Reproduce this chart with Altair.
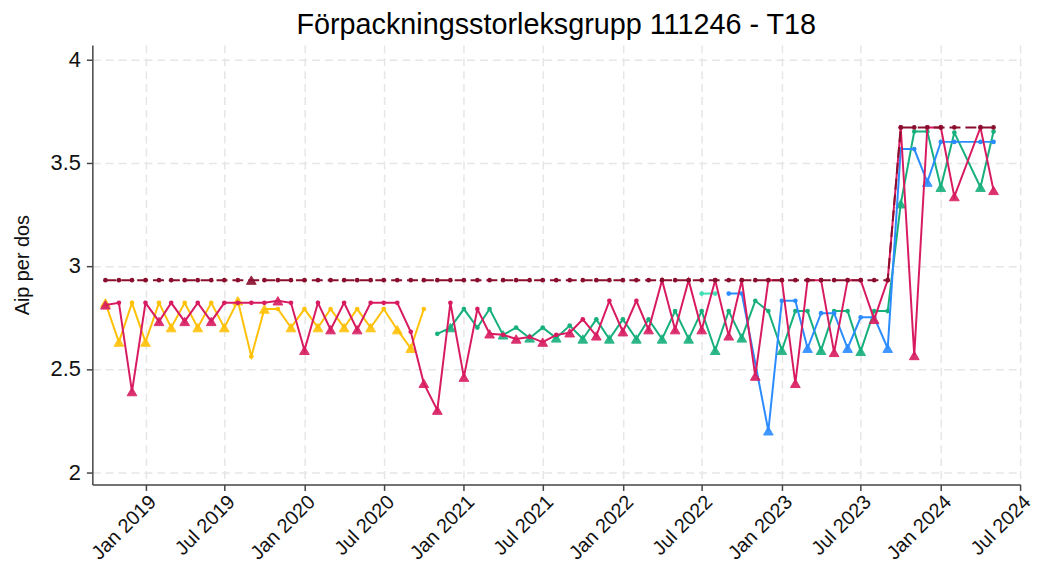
import altair as alt
import pandas as pd

# Monthly observations, Oct 2018 .. May 2024 (68 months)
months = pd.date_range("2018-10-01", periods=68, freq="MS")

maroon_vals = [
    2.93, 2.93, 2.93, 2.93, 2.93, 2.93, 2.93, 2.93, 2.93, 2.93, 2.93, 2.93,
    2.93, 2.93, 2.93, 2.93, 2.93, 2.93, 2.93, 2.93, 2.93, 2.93, 2.93, 2.93,
    2.93, 2.93, 2.93, 2.93, 2.93, 2.93, 2.93, 2.93, 2.93, 2.93, 2.93, 2.93,
    2.93, 2.93, 2.93, 2.93, 2.93, 2.93, 2.93, 2.93, 2.93, 2.93, 2.93, 2.93,
    2.93, 2.93, 2.93, 2.93, 2.93, 2.93, 2.93, 2.93, 2.93, 2.93, 2.93, 2.93,
    3.67, 3.67, 3.67, 3.67, 3.67, None, 3.67, 3.67,
]
maroon_tri = [11]

crimson_vals = [
    2.81, 2.82, 2.39, 2.82, 2.73, 2.82, 2.73, 2.82, 2.73, 2.82, 2.82, 2.82,
    2.82, 2.83, 2.82, 2.59, 2.82, 2.69, 2.82, 2.69, 2.82, 2.82, 2.82, 2.68,
    2.43, 2.30, 2.82, 2.46, 2.79, 2.67, 2.665, 2.645, 2.655, 2.63, 2.665, 2.675,
    2.74, 2.66, 2.83, 2.68, 2.83, 2.69, 2.93, 2.69, 2.93, 2.69, 2.93, 2.66,
    2.93, 2.465, 2.93, 2.93, 2.43, 2.93, 2.93, 2.58, 2.93, 2.93, 2.74, 2.93,
    3.67, 2.565, 3.67, 3.67, 3.335, None, 3.67, 3.365,
]
crimson_tri = [0, 2, 4, 6, 8, 13, 15, 17, 19, 24, 25, 27, 29, 31, 33, 35, 37,
               39, 41, 43, 45, 47, 49, 52, 55, 58, 61, 64, 67]

yellow_vals = [
    2.82, 2.63, 2.82, 2.63, 2.82, 2.70, 2.82, 2.70, 2.82, 2.70, 2.83, 2.56,
    2.79, 2.79, 2.70, 2.79, 2.70, 2.79, 2.70, 2.79, 2.70, 2.79, 2.69, 2.60,
    2.79,
] + [None] * 43
yellow_tri = [0, 1, 3, 5, 7, 9, 10, 12, 14, 16, 18, 20, 22, 23]

green_vals = [None] * 25 + [
    2.67, 2.70, 2.79, 2.70, 2.79, 2.665, 2.70, 2.65, 2.70, 2.65, 2.71,
    2.645, 2.74, 2.645, 2.74, 2.645, 2.74, 2.645, 2.78, 2.645, 2.78, 2.59, 2.78,
    2.65, 2.83, 2.78, 2.59, 2.78, 2.78, 2.59, 2.78, 2.78, 2.585, 2.78, 2.78,
    3.30, 3.65, 3.65, 3.38, 3.645, None, 3.38, 3.65,
]
green_tri = [26, 30, 32, 34, 36, 38, 40, 42, 44, 46, 48, 51, 54, 57, 60, 63, 66]

mint_vals = [None] * 45 + [2.865, 2.865] + [None] * 21
mint_tri = []

blue_vals = [None] * 47 + [
    2.865, 2.865, None, 2.20, 2.83, 2.83, 2.60, 2.77, 2.77, 2.60, 2.75, 2.75,
    2.60, 3.565, 3.565, 3.405, 3.60, 3.60, None, 3.60, 3.60,
]
blue_tri = [50, 53, 56, 59, 62]

series = [
    ("Gul", yellow_vals, yellow_tri, "#ffc107", False),
    ("Grön", green_vals, green_tri, "#17b07c", False),
    ("Mint", mint_vals, mint_tri, "#3fe0b5", False),
    ("Blå", blue_vals, blue_tri, "#2b8cff", False),
    ("Röd", crimson_vals, crimson_tri, "#d81b60", False),
    ("Mörkröd", maroon_vals, maroon_tri, "#8a0f2e", True),
]

x_enc = alt.X(
    "date:T",
    title=None,
    scale=alt.Scale(domain=[alt.DateTime(year=2018, month=9, date=1),
                            alt.DateTime(year=2024, month=7, date=1)]),
    axis=alt.Axis(
        values=[alt.DateTime(year=y, month=m, date=1)
                for y in range(2019, 2025) for m in (1, 7)],
        format="%b %Y", labelAngle=-45, labelAlign="right", labelBaseline="top",
        labelFontSize=20, labelPadding=1, tickSize=6,
    ),
)
y_enc = alt.Y(
    "value:Q",
    title="Aip per dos",
    scale=alt.Scale(domain=[1.94, 4.07], nice=False, zero=False),
    axis=alt.Axis(values=[2, 2.5, 3, 3.5, 4], format="~g", labelFontSize=22,
                  titleFontSize=20, titleFontWeight="normal", titlePadding=18,
                  tickSize=6, labelPadding=6),
)

layers = []
for name, vals, tri, color, dashed in series:
    rows = [
        {"date": d, "value": v, "tri": i in tri}
        for i, (d, v) in enumerate(zip(months, vals)) if v is not None
    ]
    df = pd.DataFrame(rows)
    line_kw = dict(color=color, strokeWidth=2)
    if dashed:
        line_kw["strokeDash"] = [11, 5]
    layers.append(alt.Chart(df).mark_line(**line_kw).encode(x=x_enc, y=y_enc))
    dc = df[~df["tri"]]
    dt = df[df["tri"]]
    layers.append(
        alt.Chart(dc).mark_point(shape="circle", filled=True, size=22,
                                 color=color, opacity=1).encode(x=x_enc, y=y_enc)
    )
    if len(dt):
        layers.append(
            alt.Chart(dt).mark_point(shape="triangle-up", filled=True, size=95,
                                     fill=color, stroke=color, strokeWidth=1,
                                     opacity=0.9).encode(x=x_enc, y=y_enc)
        )

chart = (
    alt.layer(*layers)
    .properties(
        width=935, height=443,
        title=alt.TitleParams("Förpackningsstorleksgrupp 111246 - T18",
                              fontSize=29, fontWeight="normal", color="black",
                              font="Liberation Sans", offset=5),
        padding={"left": 85, "top": 35, "right": 14, "bottom": 80},
        autosize="none",
    )
    .configure(font="Liberation Sans")
    .configure_view(stroke=None)
    .configure_axis(
        grid=True, gridDash=[8, 5], gridColor="#e6e6e6", gridWidth=1.5,
        domainColor="#444444", domainWidth=1.5, tickColor="#444444",
        tickWidth=1.5, labelColor="#111111", titleColor="#111111",
        labelFont="Liberation Sans", titleFont="Liberation Sans",
    )
)

chart.save("out.html", embed_options={"renderer": "svg", "actions": False})
